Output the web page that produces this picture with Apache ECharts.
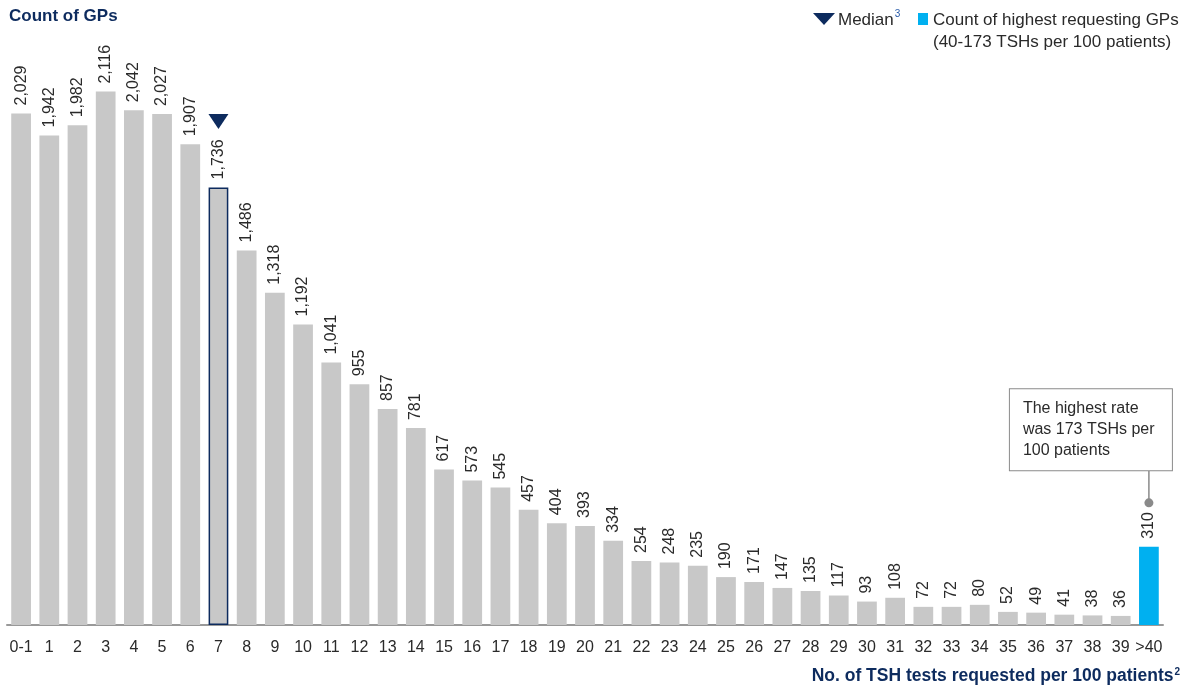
<!DOCTYPE html>
<html>
<head>
<meta charset="utf-8">
<script src="https://cdn.jsdelivr.net/npm/echarts@6/dist/echarts.min.js"></script>
<style>
  html, body { margin: 0; padding: 0; background: #fff; }
  #chart { width: 1188px; height: 688px; }
</style>
</head>
<body>
<div id="chart"></div>
<script>
// categories = TSH tests per 100 patients
const categories = ["0-1", "1", "2", "3", "4", "5", "6", "7", "8", "9", "10", "11", "12", "13", "14",
  "15", "16", "17", "18", "19", "20", "21", "22", "23", "24", "25", "26", "27", "28", "29", "30",
  "31", "32", "33", "34", "35", "36", "37", "38", "39", ">40"];
// count of GPs
const counts = [2029, 1942, 1982, 2116, 2042, 2027, 1907, 1736, 1486, 1318, 1192, 1041, 955, 857, 781,
  617, 573, 545, 457, 404, 393, 334, 254, 248, 235, 190, 171, 147, 135, 117, 93,
  108, 72, 72, 80, 52, 49, 41, 38, 36, 310];
const medianCategory = "7";
const highestCategory = ">40";
const noteLines = ["The highest rate", "was 173 TSHs per", "100 patients"];

const NAVY = "#0d2b5e";
const GREY = "#c8c8c8";
const BLUE = "#00b0f0";
const TEXT = "#2a2a2a";
const FONT = "Liberation Sans, Arial, sans-serif";

const chart = echarts.init(document.getElementById("chart"));

const fmt = v => v.toLocaleString("en-US");

chart.setOption({
  animation: false,
  textStyle: { fontFamily: FONT },
  grid: { left: 7, right: 25, top: 20, bottom: 63 },
  xAxis: {
    type: "category",
    data: categories,
    axisTick: { show: false },
    axisLine: { lineStyle: { color: "#999", width: 2 } },
    axisLabel: { interval: 0, color: TEXT, fontSize: 16, margin: 15 }
  },
  yAxis: {
    type: "value",
    min: 0,
    max: 2400,
    show: false
  },
  graphic: [
    {
      type: "text", left: 9, top: 8,
      style: { text: "Count of GPs", font: "bold 17px " + FONT, fill: NAVY }
    },
    {
      type: "text", right: 8, top: 667,
      style: {
        text: "{t|No. of TSH tests requested per 100 patients}{s|2}",
        rich: {
          t: { font: "bold 17.5px " + FONT, fill: NAVY },
          s: { font: "bold 10px " + FONT, fill: NAVY, verticalAlign: "top", padding: [0, 0, 9, 1] }
        }
      }
    },
    // legend
    {
      type: "polygon", left: 813, top: 13,
      shape: { points: [[0, 0], [22, 0], [11, 12]] },
      style: { fill: NAVY }
    },
    {
      type: "text", left: 838, top: 9,
      style: {
        text: "{t|Median}{s|3}",
        rich: {
          t: { font: "17px " + FONT, fill: TEXT, lineHeight: 22 },
          s: { font: "10px " + FONT, fill: "#2a5caa", verticalAlign: "top", padding: [0, 0, 9, 1] }
        }
      }
    },
    {
      type: "rect", left: 918, top: 13,
      shape: { width: 10, height: 12 },
      style: { fill: BLUE }
    },
    {
      type: "text", left: 933, top: 9,
      style: {
        text: "Count of highest requesting GPs\n(40-173 TSHs per 100 patients)",
        font: "17px " + FONT, fill: TEXT, lineHeight: 22
      }
    }
  ],
  series: [{
    type: "bar",
    data: counts.map((v, i) => {
      const cat = categories[i];
      if (cat === medianCategory) {
        return { value: v, itemStyle: { color: GREY, borderColor: NAVY, borderWidth: 1.5 } };
      }
      if (cat === highestCategory) {
        return { value: v, itemStyle: { color: BLUE } };
      }
      return v;
    }),
    barWidth: "70%",
    itemStyle: { color: GREY },
    label: {
      show: true,
      position: "top",
      rotate: 90,
      align: "left",
      verticalAlign: "middle",
      distance: 8,
      fontSize: 16,
      color: TEXT,
      formatter: p => fmt(p.value)
    },
    markPoint: {
      silent: true,
      label: { show: false },
      data: [
        {
          coord: [medianCategory, counts[categories.indexOf(medianCategory)]],
          symbol: "triangle",
          symbolRotate: 180,
          symbolSize: [20, 15],
          symbolOffset: [0, -66],
          itemStyle: { color: NAVY }
        },
        {
          coord: [highestCategory, counts[categories.indexOf(highestCategory)]],
          symbol: "rect",
          symbolSize: [1.5, 32],
          symbolOffset: [0, -60],
          itemStyle: { color: "#8a8a8a" }
        },
        {
          coord: [highestCategory, counts[categories.indexOf(highestCategory)]],
          symbol: "circle",
          symbolSize: 9,
          symbolOffset: [0, -44],
          itemStyle: { color: "#8a8a8a" },
          label: {
            show: true,
            position: "top",
            distance: 28,
            offset: [-139, 0],
            formatter: noteLines.join("\n"),
            align: "left",
            width: 137,
            color: TEXT,
            fontSize: 16,
            lineHeight: 21,
            backgroundColor: "#fff",
            borderColor: "#8a8a8a",
            borderWidth: 1,
            padding: [9, 12, 9, 13]
          }
        }
      ]
    }
  }]
});
</script>
</body>
</html>
